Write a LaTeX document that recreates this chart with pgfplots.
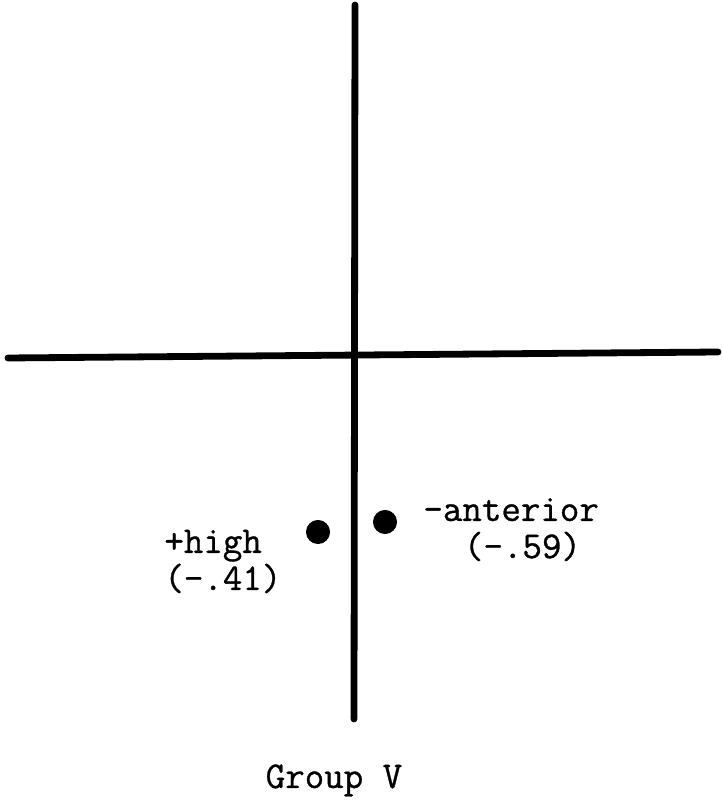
\documentclass[border=0pt]{standalone}
\usepackage{pgfplots}
\pgfplotsset{compat=1.18}
\usepackage{fontspec}
\setmonofont[FakeBold=0.8]{Latin Modern Mono}
\newcommand\lblfont{\ttfamily\fontsize{19}{18.6}\selectfont\lineskiplimit=-30pt\relax}
\begin{document}
\begin{tikzpicture}
\begin{axis}[
  x=0.5bp, y=0.5bp,
  xmin=0, xmax=723, ymin=-806, ymax=0,
  hide axis, clip=false,
]
\path (rel axis cs:0,0) rectangle (rel axis cs:1,1);
% cross lines
\addplot[black, line width=3.4bp, line cap=round] coordinates {(8,-358) (718,-352)};
\addplot[black, line width=3.4bp, line cap=round] coordinates {(355,-5) (354,-719)};
% points
\addplot[only marks, mark=*, mark size=5.8bp, black] coordinates {(318,-532) (385,-522)};
% labels
\begin{scope}[every node/.style={font=\lblfont, inner sep=0pt, align=left}]
\node[anchor=base west] at (axis cs:164,-590) {+high\\(-.41)};
\node[anchor=base west] at (axis cs:423,-558) {-anterior\\\hspace*{20.3bp}(-.59)};
\node[anchor=base] at (axis cs:334,-788) {Group V};
\end{scope}
\end{axis}
\end{tikzpicture}
\end{document}
